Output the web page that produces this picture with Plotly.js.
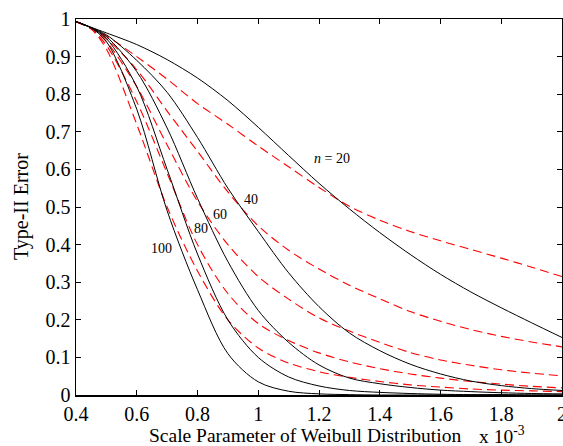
<!DOCTYPE html>
<html>
<head>
<meta charset="utf-8">
<script src="https://cdn.plot.ly/plotly-3.0.1.min.js"></script>
<style>
  html, body { margin: 0; padding: 0; background: #fff; }
  #chart { width: 563px; height: 446px; }
</style>
</head>
<body>
<div id="chart"></div>
<script>
// Scale parameter (x 10^-3)
const scaleParam = [0.4, 0.45, 0.5, 0.6, 0.7, 0.8, 0.9, 1.0, 1.1, 1.2, 1.3, 1.4, 1.5, 1.6, 1.7, 1.8, 1.9, 2.0];

// Type-II error, solid curves
const solidN20  = [0.993, 0.978, 0.963, 0.932, 0.892, 0.843, 0.783, 0.712, 0.637, 0.563, 0.495, 0.432, 0.374, 0.321, 0.274, 0.232, 0.192, 0.153];
const solidN40  = [0.993, 0.977, 0.958, 0.890, 0.805, 0.685, 0.550, 0.435, 0.325, 0.235, 0.165, 0.118, 0.082, 0.056, 0.037, 0.025, 0.017, 0.012];
const solidN60  = [0.993, 0.977, 0.953, 0.860, 0.710, 0.523, 0.355, 0.225, 0.140, 0.080, 0.045, 0.030, 0.020, 0.013, 0.009, 0.006, 0.004, 0.003];
const solidN80  = [0.993, 0.976, 0.948, 0.820, 0.600, 0.375, 0.200, 0.100, 0.048, 0.024, 0.012, 0.007, 0.004, 0.002, 0.001, 0.001, 0.000, 0.000];
const solidN100 = [0.993, 0.976, 0.940, 0.760, 0.490, 0.280, 0.110, 0.035, 0.010, 0.003, 0.001, 0.000, 0.000, 0.000, 0.000, 0.000, 0.000, 0.000];

// Type-II error, dashed curves
const dashN20  = [0.993, 0.975, 0.955, 0.900, 0.840, 0.775, 0.720, 0.662, 0.607, 0.552, 0.502, 0.465, 0.435, 0.410, 0.387, 0.364, 0.340, 0.315];
const dashN40  = [0.993, 0.975, 0.948, 0.865, 0.755, 0.648, 0.540, 0.450, 0.385, 0.335, 0.292, 0.256, 0.222, 0.196, 0.174, 0.156, 0.141, 0.128];
const dashN60  = [0.993, 0.975, 0.940, 0.820, 0.665, 0.515, 0.400, 0.315, 0.255, 0.205, 0.170, 0.140, 0.113, 0.093, 0.079, 0.067, 0.058, 0.051];
const dashN80  = [0.993, 0.974, 0.930, 0.780, 0.590, 0.400, 0.270, 0.190, 0.145, 0.112, 0.088, 0.070, 0.056, 0.045, 0.036, 0.029, 0.023, 0.019];
const dashN100 = [0.993, 0.973, 0.920, 0.720, 0.500, 0.330, 0.200, 0.125, 0.085, 0.062, 0.047, 0.036, 0.027, 0.021, 0.016, 0.013, 0.011, 0.009];

// Curve labels: text and anchor point in data units
const labelText = ['<i>n</i> = 20', '40', '60', '80', '100'];
const labelX    = [1.243, 0.976, 0.875, 0.812, 0.681];
const labelY    = [0.628, 0.520, 0.479, 0.443, 0.390];

const xTicks = [0.4, 0.6, 0.8, 1.0, 1.2, 1.4, 1.6, 1.8, 2.0];
const yTicks = [0, 0.1, 0.2, 0.3, 0.4, 0.5, 0.6, 0.7, 0.8, 0.9, 1];

const serif = 'Liberation Serif, Times New Roman, serif';

function solid(y) {
  return { x: scaleParam, y: y, mode: 'lines', hoverinfo: 'skip',
           line: { color: '#000000', width: 1, shape: 'spline', smoothing: 0.9 } };
}
function dashed(y) {
  return { x: scaleParam, y: y, mode: 'lines', hoverinfo: 'skip',
           line: { color: '#ff0000', width: 1.1, dash: '9px,5px', shape: 'spline', smoothing: 0.9 } };
}

const traces = [
  dashed(dashN20), dashed(dashN40), dashed(dashN60), dashed(dashN80), dashed(dashN100),
  solid(solidN20), solid(solidN40), solid(solidN60), solid(solidN80), solid(solidN100)
];

const curveLabels = labelText.map((t, i) => ({
  x: labelX[i], y: labelY[i], xref: 'x', yref: 'y', text: t, showarrow: false,
  font: { family: serif, size: 14, color: '#000' }
}));

const axisCommon = {
  showgrid: false, zeroline: false, showline: true, linecolor: '#000', linewidth: 1.5,
  mirror: 'ticks', ticks: 'inside', ticklen: 5, tickwidth: 1, tickcolor: '#000',
  ticklabeloverflow: 'allow',
  tickfont: { family: serif, size: 20, color: '#000' }
};

const layout = {
  width: 563, height: 446,
  margin: { l: 76, r: 1, t: 19, b: 51, pad: 0 },
  paper_bgcolor: '#fff', plot_bgcolor: '#fff',
  showlegend: false,
  xaxis: Object.assign({}, axisCommon, { range: [0.4, 2.0], tickvals: xTicks,
    ticktext: xTicks.map(v => String(+v.toFixed(1))) }),
  yaxis: Object.assign({}, axisCommon, { range: [0, 1], tickvals: yTicks,
    ticktext: yTicks.map(v => String(v)) }),
  annotations: curveLabels.concat([
    { xref: 'paper', yref: 'paper', x: (305 - 76) / 486, y: -40 / 376,
      xanchor: 'center', yanchor: 'middle',
      text: 'Scale Parameter of Weibull Distribution', showarrow: false,
      font: { family: serif, size: 19.5, color: '#000' } },
    { xref: 'paper', yref: 'paper', x: (477 - 76) / 486, y: -40 / 376,
      xanchor: 'left', yanchor: 'middle',
      text: 'x 10<sup>-3</sup>', showarrow: false,
      font: { family: serif, size: 19.5, color: '#000' } },
    { xref: 'paper', yref: 'paper', x: -(76 - 21) / 486, y: 0.5, textangle: -90,
      xanchor: 'center', yanchor: 'middle',
      text: 'Type-II Error', showarrow: false,
      font: { family: serif, size: 20, color: '#000' } }
  ])
};

Plotly.newPlot('chart', traces, layout, { staticPlot: true, displayModeBar: false });
</script>
</body>
</html>
